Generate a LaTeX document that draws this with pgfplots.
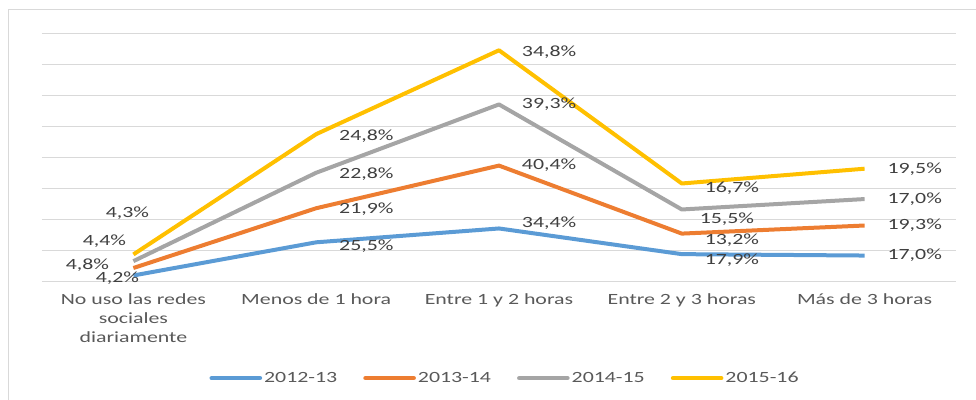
\documentclass[border=0pt]{standalone}
\usepackage{pgfplots}
\pgfplotsset{compat=1.18}
\usepackage{fontspec}
\setmainfont{Carlito}[FakeStretch=1.4]
\definecolor{cblue}{HTML}{5B9BD5}
\definecolor{corange}{HTML}{ED7D31}
\definecolor{cgray}{HTML}{A5A5A5}
\definecolor{cyellow}{HTML}{FFC000}
\definecolor{gridc}{HTML}{D9D9D9}
\definecolor{txt}{HTML}{595959}
\definecolor{lbl}{HTML}{404040}
\begin{document}
\begin{tikzpicture}
\path[use as bounding box] (0,0) rectangle (732pt,300pt);
\draw[gridc, line width=0.75pt] (6pt,0pt) -- (6pt,292.5pt) -- (732pt,292.5pt);
\begin{axis}[
  scale only axis,
  width=685.5pt, height=186.75pt,
  at={(31.5pt,88.5pt)}, anchor=south west,
  xmin=-0.5, xmax=4.5, ymin=0, ymax=160,
  stack plots=y,
  separate axis lines,
  axis x line*=bottom,
  x axis line style={gridc, line width=0.75pt},
  y axis line style={draw=none},
  ytick={0,20,...,160}, yticklabels={}, ytick style={draw=none},
  ymajorgrids, grid style={gridc, line width=0.75pt},
  xtick={0,1,2,3,4},
  xticklabels={{No uso las redes\\sociales\\diariamente},Menos de 1 hora,Entre 1 y 2 horas,Entre 2 y 3 horas,Más de 3 horas},
  xticklabel style={align=center, text=txt, font=\fontsize{11.7pt}{14.25pt}\selectfont, yshift=-5pt},
  x tick style={draw=none},
  extra x ticks={-0.5,0.5,1.5,2.5,3.5,4.5},
  extra x tick labels={},
  extra x tick style={tick align=outside, major tick length=4pt, tick style={draw=gridc, line width=0.75pt}},
  clip=false,
  every axis plot/.append style={line width=3pt, no markers, line join=round},
  point meta=explicit symbolic,
  visualization depends on={\thisrow{dx} \as \dx},
  visualization depends on={\thisrow{dy} \as \dy},
  visualization depends on={value \thisrow{a} \as \anc},
  nodes near coords={\pgfplotspointmeta\%},
  every node near coord/.append style={anchor=\anc, xshift=\dx pt, yshift=\dy pt, text=lbl, font=\fontsize{11.7pt}{14pt}\selectfont, inner sep=0pt},
  legend style={at={(0.5066,-0.386)}, anchor=center, draw=none, fill=none, legend columns=-1,
    /tikz/every even column/.append style={column sep=18pt},
    font=\fontsize{11.7pt}{14pt}\selectfont, text=txt, nodes={inner sep=1.5pt}},
  legend image code/.code={\draw[#1, line width=3.5pt, line cap=round] (0pt,0pt) -- (36pt,0pt);},
]
\addplot[cblue] table[meta=l] {
x y l dx dy a
0 4.2 4,2 -12 -1.9 center
1 25.5 25,5 15.75 -2.8 west
2 34.4 34,4 15.75 4.1 west
3 17.9 17,9 15.75 -4.5 west
4 17.0 17,0 15.75 0 west
};
\addlegendentry{2012-13}
\addplot[corange] table[meta=l] {
x y l dx dy a
0 4.8 4,8 -34.5 2.25 center
1 21.9 21,9 15.75 -0.75 west
2 40.4 40,4 15.75 0 west
3 13.2 13,2 15.75 -4.9 west
4 19.3 19,3 15.75 0 west
};
\addlegendentry{2013-14}
\addplot[cgray] table[meta=l] {
x y l dx dy a
0 4.4 4,4 -21.75 15 center
1 22.8 22,8 15.75 -1 west
2 39.3 39,3 15.75 0 west
3 15.5 15,5 12 -7 west
4 17.0 17,0 15.75 0 west
};
\addlegendentry{2014-15}
\addplot[cyellow] table[meta=l] {
x y l dx dy a
0 4.3 4,3 -4.5 31 center
1 24.8 24,8 15.75 -1.5 west
2 34.8 34,8 15.75 -1.5 west
3 16.7 16,7 15.75 -3.4 west
4 19.5 19,5 15.75 0 west
};
\addlegendentry{2015-16}
\end{axis}
\end{tikzpicture}
\end{document}
